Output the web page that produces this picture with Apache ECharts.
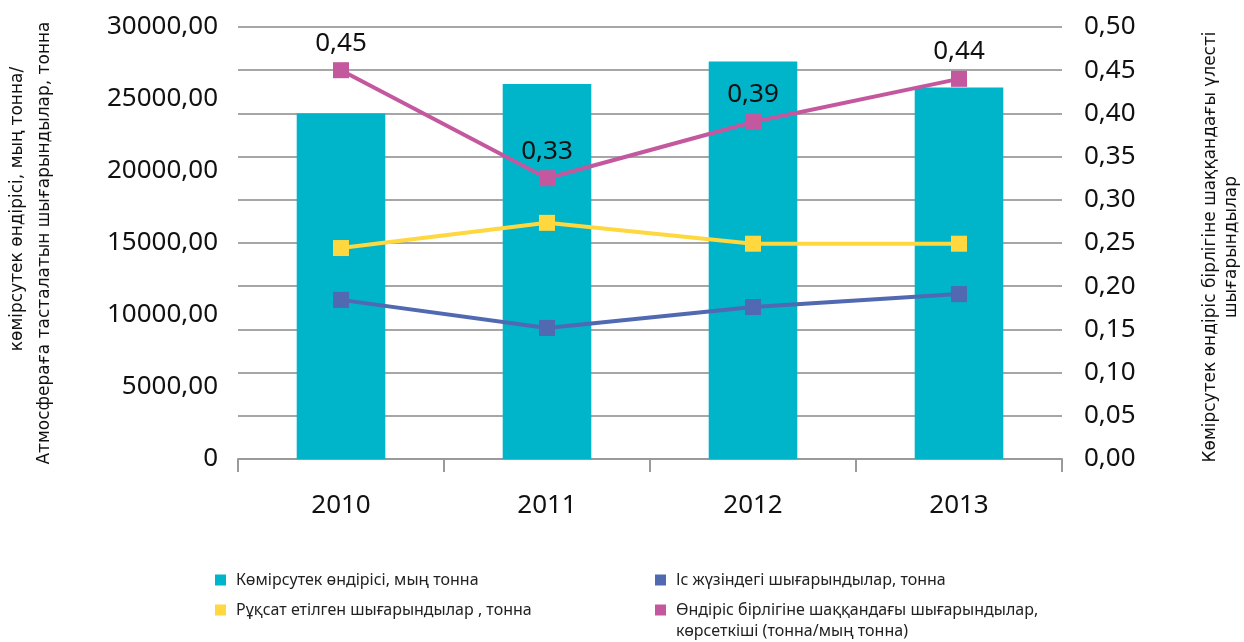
<!DOCTYPE html>
<html><head><meta charset="utf-8">
<script src="https://cdn.jsdelivr.net/npm/echarts@6/dist/echarts.min.js"></script>
<style>html,body{margin:0;padding:0;background:#fff}#c{width:1244px;height:642px}</style>
</head><body><div id="c"></div>
<script>
const years = ['2010', '2011', '2012', '2013'];
const production = [24000, 26050, 27600, 25800];
const permitted = [14650, 16400, 14950, 14950];
const actual = [11050, 9100, 10550, 11450];
const perUnit = [0.45, 0.325, 0.39, 0.44];
const names = [
  'Көмірсутек өндірісі, мың тонна',
  'Рұқсат етілген шығарындылар , тонна',
  'Іс жүзіндегі шығарындылар, тонна',
  'Өндіріс бірлігіне шаққандағы шығарындылар, көрсеткіші (тонна/мың тонна)'
];
const fmtL = v => v === 0 ? '0' : v.toFixed(2).replace('.', ',');
const fmtR = v => v.toFixed(2).replace('.', ',');
const F = 'Noto Sans';
const TF = 'DejaVu Sans';
const chart = echarts.init(document.getElementById('c'), null, {renderer: 'canvas'});
chart.setOption({
  animation: false,
  backgroundColor: '#fff',
  grid: {left: 238, right: 182, top: 27, bottom: 183},
  xAxis: {
    type: 'category', data: years, boundaryGap: true,
    axisLine: {lineStyle: {color: '#9a9a9a', width: 2}},
    axisTick: {show: true, length: 13, lineStyle: {color: '#9a9a9a', width: 2}},
    axisLabel: {color: '#111', fontSize: 26, fontFamily: F, margin: 34}
  },
  yAxis: [
    {type: 'value', min: 0, max: 30000, interval: 5000, position: 'left',
     splitLine: {show: false}, axisLine: {show: false}, axisTick: {show: false},
     axisLabel: {color: '#111', fontSize: 26, fontFamily: F, margin: 20, formatter: fmtL}},
    {type: 'value', min: 0, max: 0.5, interval: 0.05, position: 'right',
     splitLine: {show: true, lineStyle: {color: '#a6a6a6', width: 2}},
     axisLine: {show: false}, axisTick: {show: false},
     axisLabel: {color: '#111', fontSize: 26, fontFamily: F, margin: 22, formatter: fmtR}}
  ],
  legend: [
    {left: 215, top: 571, padding: 0, orient: 'vertical', icon: 'rect', itemWidth: 11, itemHeight: 11,
     itemGap: 12, itemTextGap: 10, data: [names[0], names[1]],
     textStyle: {fontSize: 16, fontFamily: F, color: '#222', lineHeight: 18, padding: [0, 0, 0, 5]}},
    {left: 655, top: 571, padding: 0, orient: 'vertical', icon: 'rect', itemWidth: 11, itemHeight: 11,
     itemGap: 12, itemTextGap: 10, data: [names[2], names[3]],
     formatter: n => n === names[3] ? 'Өндіріс бірлігіне шаққандағы шығарындылар,' : n,
     textStyle: {fontSize: 16, fontFamily: F, color: '#222', lineHeight: 18, padding: [0, 0, 0, 5]}}
  ],
  graphic: [
    {type: 'text', x: 676, y: 631, style: {text: 'көрсеткіші (тонна/мың тонна)', fontSize: 16, fontFamily: F, fill: '#222', align: 'left', verticalAlign: 'middle'}},
    {type: 'text', x: 18, y: 209, rotation: Math.PI / 2, style: {text: 'көмірсутек өндірісі, мың тонна/', fontSize: 17, fontFamily: TF, fill: '#111', align: 'center', verticalAlign: 'middle'}},
    {type: 'text', x: 45, y: 243, rotation: Math.PI / 2, style: {text: 'Атмосфераға тасталатын шығарындылар, тонна', fontSize: 17, fontFamily: TF, fill: '#111', align: 'center', verticalAlign: 'middle'}},
    {type: 'text', x: 1211, y: 247, rotation: Math.PI / 2, style: {text: 'Көмірсутек өндіріс бірлігіне шаққандағы үлесті', fontSize: 17, fontFamily: TF, fill: '#111', align: 'center', verticalAlign: 'middle'}},
    {type: 'text', x: 1232, y: 247, rotation: Math.PI / 2, style: {text: 'шығарындылар', fontSize: 17, fontFamily: TF, fill: '#111', align: 'center', verticalAlign: 'middle'}}
  ],
  series: [
    {name: names[0], type: 'bar', data: production, yAxisIndex: 0, barWidth: '43%',
     itemStyle: {color: '#00b4c9'}, z: 1},
    {name: names[1], type: 'line', data: permitted, yAxisIndex: 0, symbol: 'rect', symbolSize: 16,
     lineStyle: {color: '#ffd73f', width: 4}, itemStyle: {color: '#ffd73f'}, z: 3},
    {name: names[2], type: 'line', data: actual, yAxisIndex: 0, symbol: 'rect', symbolSize: 16,
     lineStyle: {color: '#5069b1', width: 4}, itemStyle: {color: '#5069b1'}, z: 3},
    {name: names[3], type: 'line', data: perUnit, yAxisIndex: 1, symbol: 'rect', symbolSize: 16,
     lineStyle: {color: '#c4589f', width: 4}, itemStyle: {color: '#c4589f'}, z: 4,
     label: {show: true, position: 'top', distance: 6, fontSize: 26, fontFamily: F, color: '#111',
             formatter: p => p.value.toFixed(2).replace('.', ',')}}
  ]
});
</script></body></html>
